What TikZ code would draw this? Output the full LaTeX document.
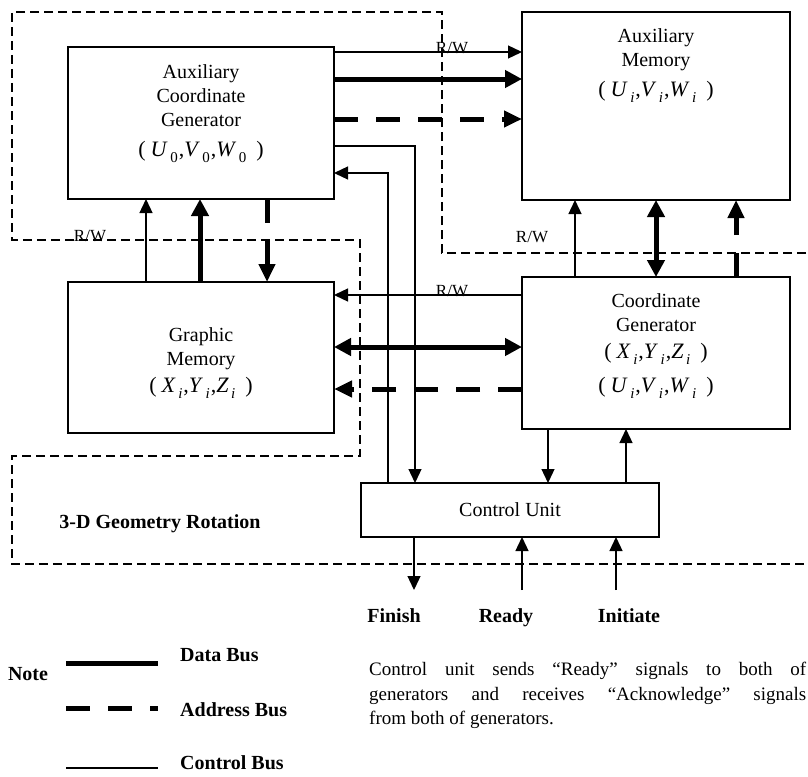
\documentclass[tikz,border=0pt]{standalone}
\usepackage{fontspec}
\setmainfont{Liberation Serif}
\usetikzlibrary{arrows.meta,positioning,calc}
\tikzset{
  block/.style={draw,line width=1.4pt,inner sep=0pt,outer sep=0pt},
  txt/.style={inner sep=0pt,align=center,font=\fontsize{20}{24}\selectfont},
  ctl/.style={line width=1.3pt,-{Triangle[length=14pt,width=13pt]}},
  dat/.style={line width=5pt,-{Triangle[length=17pt,width=17pt]}},
  datb/.style={line width=5pt,{Triangle[length=17pt,width=17pt]}-{Triangle[length=17pt,width=17pt]}},
  adr/.style={line width=5pt,dash pattern=on 24pt off 18pt,-{Triangle[length=18pt,width=16pt]}},
  zone/.style={line width=1.3pt,dash pattern=on 9pt off 5pt},
  rw/.style={inner sep=0pt,anchor=base,font=\fontsize{17}{17}\selectfont},
  lbl/.style={inner sep=0pt,anchor=base,font=\bfseries\fontsize{20}{20}\selectfont},
}
\newcommand{\cvar}[2]{\textit{#1}\kern2.5pt\raisebox{-6pt}{\fontsize{15}{15}\selectfont#2}}
\newcommand{\trip}[3]{{\fontsize{22}{22}\selectfont(\kern5pt#1\kern1pt,#2\kern1pt,#3\kern10pt)}}

\begin{document}
\begin{tikzpicture}[x=1pt,y=-1pt]
  \useasboundingbox (0,0) rectangle (808,776);
  \draw[zone] (820,253) -- (442,253) -- (442,12) -- (12,12) -- (12,240) -- (360,240)
    -- (360,456) -- (12,456) -- (12,564) -- (820,564);

  \node[block,minimum width=266pt,minimum height=152pt] (acg) at (201,123) {};
  \node[txt,below=17pt of acg.north] (acgt) {Auxiliary\\Coordinate\\Generator\\[6pt]\trip{\cvar{U}{0}}{\cvar{V}{0}}{\cvar{W}{0}}};
  \node[block,minimum width=268pt,minimum height=188pt] (am) at (656,106) {};
  \node[txt,below=16pt of am.north] (amt) {Auxiliary\\Memory\\[6pt]\trip{\cvar{U}{\textit{i}}}{\cvar{V}{\textit{i}}}{\cvar{W}{\textit{i}}}};
  \node[block,minimum width=266pt,minimum height=151pt] (gm) at (201,357.5) {};
  \node[txt,below=45pt of gm.north] (gmt) {Graphic\\Memory\\[3pt]\trip{\cvar{X}{\textit{i}}}{\cvar{Y}{\textit{i}}}{\cvar{Z}{\textit{i}}}};
  \node[block,minimum width=268pt,minimum height=152pt] (cg) at (656,353) {};
  \node[txt,below=16pt of cg.north] (cgt) {Coordinate\\Generator\\[3pt]\trip{\cvar{X}{\textit{i}}}{\cvar{Y}{\textit{i}}}{\cvar{Z}{\textit{i}}}\\[10pt]\trip{\cvar{U}{\textit{i}}}{\cvar{V}{\textit{i}}}{\cvar{W}{\textit{i}}}};
  \node[block,minimum width=298pt,minimum height=54pt,font=\fontsize{20}{24}\selectfont] (cu) at (510,510) {Control Unit};

  \draw[ctl] (acg.east |- 0,52) -- (am.west |- 0,52);
  \draw[dat] (acg.east |- 0,79) -- (am.west |- 0,79);
  \draw[adr] (acg.east |- 0,119) -- (am.west |- 0,119);
  \draw[ctl] (acg.east |- 0,146) -| (cu.north -| 415,0);
  \draw[ctl] (cu.north -| 388,0) |- (acg.east |- 0,173);
  \draw[ctl] (gm.north -| 146,0) -- (acg.south -| 146,0);
  \draw[dat] (gm.north -| 200,0) -- (acg.south -| 200,0);
  \draw[adr] (acg.south -| 267,0) -- (gm.north -| 267,0);
  \draw[ctl] (cg.west |- 0,295) -- (gm.east |- 0,295);
  \draw[datb] (gm.east |- 0,347) -- (cg.west |- 0,347);
  \draw[adr] (cg.west |- 0,389) -- (gm.east |- 0,389);
  \draw[ctl] (cg.north -| 575,0) -- (am.south -| 575,0);
  \draw[datb] (am.south) -- (cg.north);
  \draw[adr] (cg.north -| 736,0) -- (am.south -| 736,0);
  \draw[ctl] (cg.south -| 548,0) -- (cu.north -| 548,0);
  \draw[ctl] (cu.north -| 626,0) -- (cg.south -| 626,0);

  \node[rw] (rwa) at (452,54) {R/W};
  \node[rw] (rwb) at (90,241) {R/W};
  \node[rw] (rwc) at (532,242) {R/W};
  \node[rw] (rwd) at (452,296) {R/W};

  \node[lbl] (geo) at (160,528) {3-D Geometry Rotation};
  \coordinate (fin) at (414,590);
  \coordinate (rdy) at (522,590);
  \coordinate (ini) at (616,590);
  \draw[ctl] (cu.south -| fin) -- (fin);
  \draw[ctl] (rdy) -- (cu.south -| rdy);
  \draw[ctl] (ini) -- (cu.south -| ini);
  \node[lbl] (finish) at (394,622) {Finish};
  \node[lbl] (ready) at (506,622) {Ready};
  \node[lbl] (initiate) at (629,622) {Initiate};

  \node[lbl] (note) at (28,680) {Note};
  \node[lbl,anchor=base west] (dbus) at (180,661) {Data Bus};
  \node[lbl,anchor=base west] (abus) at (180,716) {Address Bus};
  \node[lbl,anchor=base west] (cbus) at (180,769) {Control Bus};
  \draw[line width=5pt] (66,663) -- (158,663);
  \draw[line width=5pt,dash pattern=on 24pt off 18pt] (66,708) -- (158,708);
  \draw[line width=1.3pt] (66,768) -- (158,768);

  \node[inner sep=0pt,anchor=north west,text width=437pt,align=justify,
    font=\fontsize{19}{24.5}\selectfont] (para) at (369,662)
    {Control unit sends “Ready” signals to both of\linebreak generators and receives “Acknowledge” signals\linebreak from both of generators.};
\end{tikzpicture}
\end{document}
